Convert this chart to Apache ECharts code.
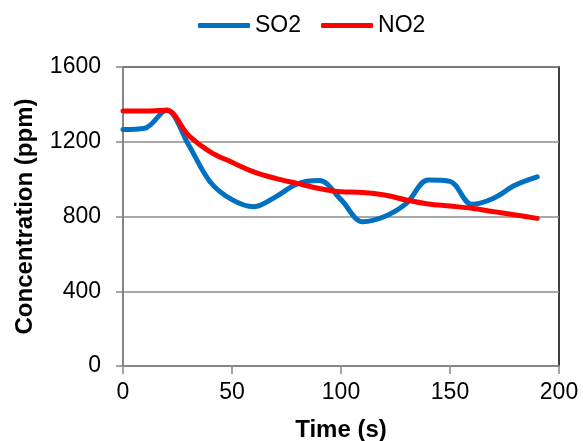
<!DOCTYPE html>
<html lang="en">
<head>
    <meta charset="UTF-8">
    <title>SO2 / NO2 concentration</title>
    <script type="text/javascript" src="https://cdn.jsdelivr.net/npm/echarts@6/dist/echarts.min.js"></script>
    <style type="text/css">
        body{margin:0;background:#fff;}
        #main{width:583px;height:441px;}
    </style>
</head>
<body>
<div id="main"></div>
<script type="text/javascript">
    // 时间 (s)
    var timeData = [0, 10, 20, 30, 40, 50, 60, 70, 80, 90, 100, 110, 120, 130, 140, 150, 160, 170, 180, 190];
    // 浓度 (ppm)
    var so2Data = [1265, 1272, 1370, 1185, 985, 890, 852, 905, 975, 992, 890, 772, 800, 870, 995, 988, 865, 898, 968, 1012];
    var no2Data = [1364, 1365, 1368, 1235, 1146, 1090, 1039, 1004, 977, 950, 932, 929, 915, 888, 867, 856, 844, 826, 808, 790];
    var yTicks = [0, 400, 800, 1200, 1600];
    var xTicks = [0, 50, 100, 150, 200];

    function pairs(xs, ys) {
        var out = [];
        for (var i = 0; i < xs.length; i++) {
            out.push([xs[i], ys[i]]);
        }
        return out;
    }

    var font = 'Liberation Sans, Arial, sans-serif';
    var myChart = echarts.init(document.getElementById('main'));
    var option = {
        animation: false,
        textStyle: {fontFamily: font},
        legend: {
            left: 198,
            top: 14,
            padding: 0,
            itemWidth: 52,
            itemHeight: 5,
            itemGap: 20,
            icon: 'roundRect',
            textStyle: {fontSize: 23, color: '#000', fontFamily: font},
            data: ['SO2', 'NO2']
        },
        grid: {
            left: 123,
            right: 24,
            top: 67,
            bottom: 75,
            containLabel: false,
            outerBoundsMode: 'none',
            show: true,
            borderColor: '#000',
            borderWidth: 1.5
        },
        xAxis: {
            type: 'value',
            min: xTicks[0],
            max: xTicks[xTicks.length - 1],
            interval: 50,
            name: 'Time (s)',
            nameLocation: 'middle',
            nameGap: 52,
            nameTextStyle: {fontSize: 24, fontWeight: 'bold', color: '#000', fontFamily: font},
            axisLine: {lineStyle: {color: '#868686', width: 2}},
            axisTick: {show: true, inside: false, length: 8, lineStyle: {color: '#868686', width: 1.5}},
            axisLabel: {fontSize: 23, color: '#000', margin: 15, fontFamily: font},
            splitLine: {show: false}
        },
        yAxis: {
            type: 'value',
            min: yTicks[0],
            max: yTicks[yTicks.length - 1],
            interval: 400,
            name: 'Concentration (ppm)',
            nameLocation: 'middle',
            nameGap: 86,
            nameTextStyle: {fontSize: 24, fontWeight: 'bold', color: '#000', fontFamily: font},
            axisLine: {show: true, lineStyle: {color: '#868686', width: 2}},
            axisTick: {show: true, inside: false, length: 7, lineStyle: {color: '#868686', width: 1.5}},
            axisLabel: {
                fontSize: 23, color: '#000', margin: 22, fontFamily: font,
                formatter: function (v) { return String(v); }
            },
            splitLine: {show: true, lineStyle: {color: '#8c8c8c', width: 1.5}}
        },
        series: [{
            name: 'SO2',
            type: 'line',
            data: pairs(timeData, so2Data),
            smooth: 0.35,
            showSymbol: false,
            symbol: 'none',
            color: '#0070C0',
            lineStyle: {width: 5, color: '#0070C0', cap: 'round', join: 'round'}
        }, {
            name: 'NO2',
            type: 'line',
            data: pairs(timeData, no2Data),
            smooth: 0.35,
            showSymbol: false,
            symbol: 'none',
            color: '#FF0000',
            lineStyle: {width: 5, color: '#FF0000', cap: 'round', join: 'round'}
        }]
    };
    myChart.setOption(option);
</script>
</body>
</html>
